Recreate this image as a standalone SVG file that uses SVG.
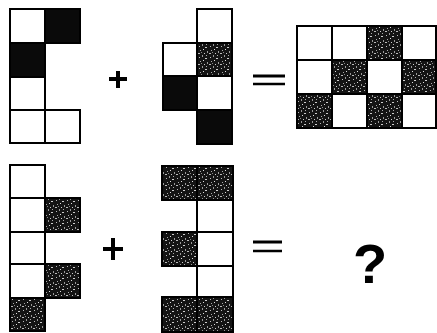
<svg xmlns="http://www.w3.org/2000/svg" width="437" height="333" viewBox="0 0 437 333">
<defs>
<pattern id="speck" width="11" height="11" patternUnits="userSpaceOnUse">
<rect width="11" height="11" fill="#141414"/>
<rect x="1" y="2" width="1" height="1" fill="#bbb"/>
<rect x="4" y="0" width="1" height="2" fill="#999"/>
<rect x="7" y="3" width="2" height="1" fill="#ccc"/>
<rect x="2" y="6" width="1" height="1" fill="#aaa"/>
<rect x="5" y="5" width="1" height="1" fill="#ddd"/>
<rect x="9" y="7" width="1" height="2" fill="#999"/>
<rect x="0" y="9" width="2" height="1" fill="#bbb"/>
<rect x="6" y="9" width="1" height="1" fill="#ccc"/>
<rect x="3" y="8" width="1" height="1" fill="#888"/>
<rect x="8" y="0" width="1" height="1" fill="#aaa"/>
</pattern>
</defs>
<style>
.w{fill:#fff;stroke:#000;stroke-width:2}
.b{fill:#0a0a0a;stroke:#000;stroke-width:2}
.s{fill:url(#speck);stroke:#000;stroke-width:2}
.op{stroke:#000;fill:none;stroke-linecap:butt}
.q{font-family:"Liberation Sans",Arial,sans-serif;font-weight:bold;font-size:56px;fill:#000;text-anchor:middle}
</style>
<rect width="437" height="333" fill="#fff"/>

<g id="fig1">
<rect class="w" x="10" y="9" width="35" height="34"/>
<rect class="b" x="45" y="9" width="35" height="34"/>
<rect class="b" x="10" y="43" width="35" height="34"/>
<rect class="w" x="10" y="77" width="35" height="33"/>
<rect class="w" x="10" y="110" width="35" height="33"/>
<rect class="w" x="45" y="110" width="35" height="33"/>
</g>

<g id="plus1">
<line class="op" x1="109" y1="79" x2="127" y2="79" stroke-width="4"/>
<line class="op" x1="118" y1="71" x2="118" y2="88" stroke-width="4"/>
</g>

<g id="fig2">
<rect class="w" x="197" y="9" width="35" height="34"/>
<rect class="w" x="163" y="43" width="34" height="33"/>
<rect class="s" x="197" y="43" width="35" height="33"/>
<rect class="b" x="163" y="76" width="34" height="34"/>
<rect class="w" x="197" y="76" width="35" height="34"/>
<rect class="b" x="197" y="110" width="35" height="34"/>
</g>

<g id="eq1">
<line class="op" x1="253" y1="76" x2="285" y2="76" stroke-width="3"/>
<line class="op" x1="253" y1="84" x2="285" y2="84" stroke-width="2.5"/>
</g>

<g id="fig3">
<rect class="w" x="297" y="26" width="35" height="34"/>
<rect class="w" x="332" y="26" width="35" height="34"/>
<rect class="s" x="367" y="26" width="35" height="34"/>
<rect class="w" x="402" y="26" width="34" height="34"/>
<rect class="w" x="297" y="60" width="35" height="34"/>
<rect class="s" x="332" y="60" width="35" height="34"/>
<rect class="w" x="367" y="60" width="35" height="34"/>
<rect class="s" x="402" y="60" width="34" height="34"/>
<rect class="s" x="297" y="94" width="35" height="34"/>
<rect class="w" x="332" y="94" width="35" height="34"/>
<rect class="s" x="367" y="94" width="35" height="34"/>
<rect class="w" x="402" y="94" width="34" height="34"/>
</g>

<g id="fig4">
<rect class="w" x="10" y="165" width="35" height="33"/>
<rect class="w" x="10" y="198" width="35" height="34"/>
<rect class="s" x="45" y="198" width="35" height="34"/>
<rect class="w" x="10" y="232" width="35" height="32"/>
<rect class="w" x="10" y="264" width="35" height="34"/>
<rect class="s" x="45" y="264" width="35" height="34"/>
<rect class="s" x="10" y="298" width="35" height="33"/>
</g>

<g id="plus2">
<line class="op" x1="103" y1="249" x2="123" y2="249" stroke-width="4"/>
<line class="op" x1="113" y1="238" x2="113" y2="260" stroke-width="4"/>
</g>

<g id="fig5">
<rect class="s" x="162" y="166" width="35" height="34"/>
<rect class="s" x="197" y="166" width="36" height="34"/>
<rect class="w" x="197" y="200" width="36" height="32"/>
<rect class="s" x="162" y="232" width="35" height="34"/>
<rect class="w" x="197" y="232" width="36" height="34"/>
<rect class="w" x="197" y="266" width="36" height="31"/>
<rect class="s" x="162" y="297" width="35" height="35"/>
<rect class="s" x="197" y="297" width="36" height="35"/>
</g>

<g id="eq2">
<line class="op" x1="253" y1="242" x2="282" y2="242" stroke-width="3"/>
<line class="op" x1="253" y1="251" x2="282" y2="251" stroke-width="2.5"/>
</g>

<g id="question">
<text class="q" x="370" y="283">?</text>
</g>
</svg>
